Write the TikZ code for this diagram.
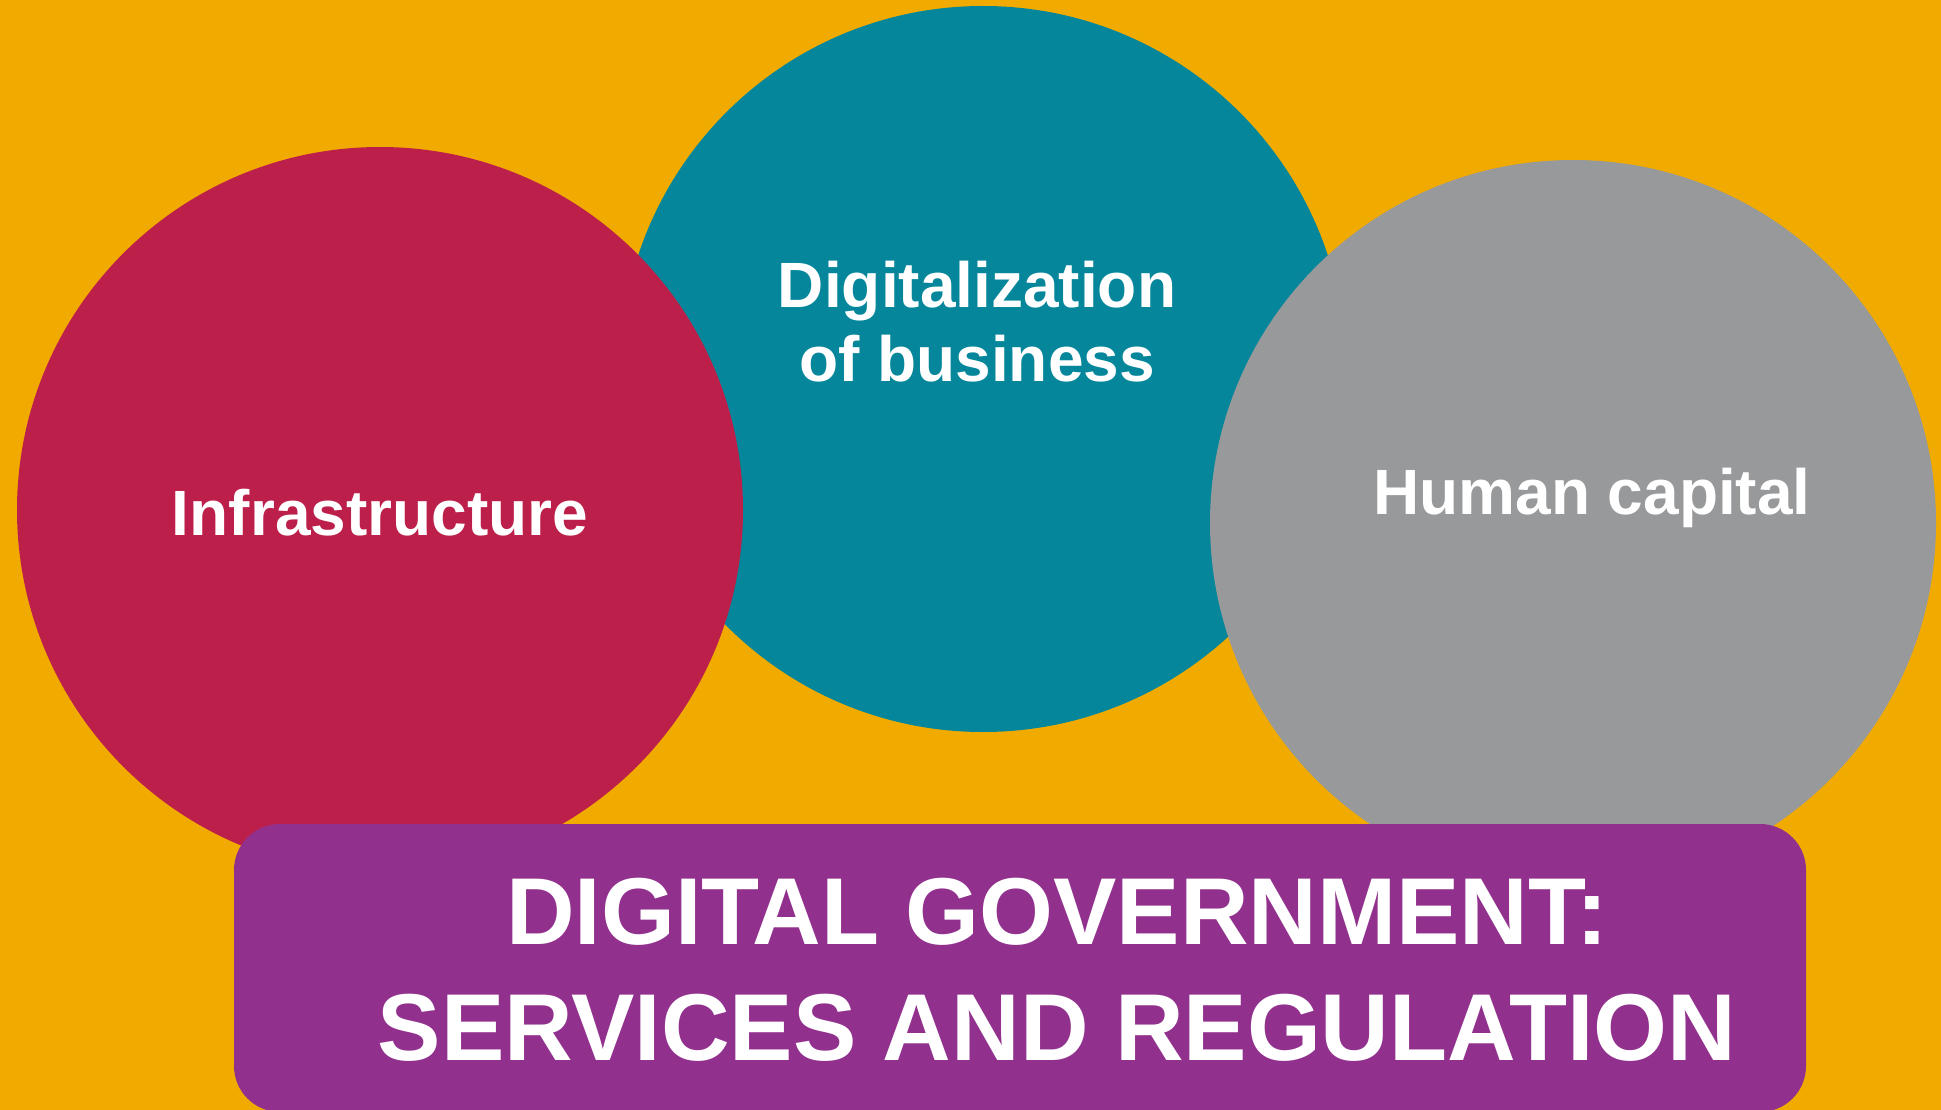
\documentclass[tikz,border=0pt]{standalone}
\usepackage{fontspec}
\setmainfont{Liberation Sans}
\definecolor{bgorange}{HTML}{F1AB00}
\definecolor{cred}{HTML}{BD1F4B}
\definecolor{cteal}{HTML}{05869A}
\definecolor{cgray}{HTML}{98999B}
\definecolor{cpurple}{HTML}{91318D}
\begin{document}
\begin{tikzpicture}[x=1pt,y=-1pt,
  bubble/.style={circle,minimum size=726pt,inner sep=0pt},
  lbl/.style={text=white,font=\fontsize{64}{74}\selectfont\bfseries,anchor=base,inner sep=0pt},
  ttl/.style={text=white,font=\fontsize{95}{115}\selectfont\bfseries,anchor=base,inner sep=0pt}]
\fill[bgorange] (0,0) rectangle (1941,1110);
\useasboundingbox (0,0) rectangle (1941,1110);
\node[bubble,fill=cteal] (teal) at (983,369) {};
\node[bubble,fill=cred] (red) at (380,510) {};
\node[bubble,fill=cgray] (gray) at (1573,523) {};
\fill[cpurple,rounded corners=46pt] (234,824) rectangle (1806,1112);
\node[lbl] (infra) at (380,535) {Infrastructure};
\node[lbl] (dig1) at (977,307) {Digitalization};
\node[lbl] (dig2) at (977,381) {of business};
\node[lbl] (human) at (1592,514) {Human capital};
\node[ttl] (t1) at (1057,944) {DIGITAL GOVERNMENT:};
\node[ttl] (t2) at (1057,1060) {SERVICES AND REGULATION};
\end{tikzpicture}
\end{document}
